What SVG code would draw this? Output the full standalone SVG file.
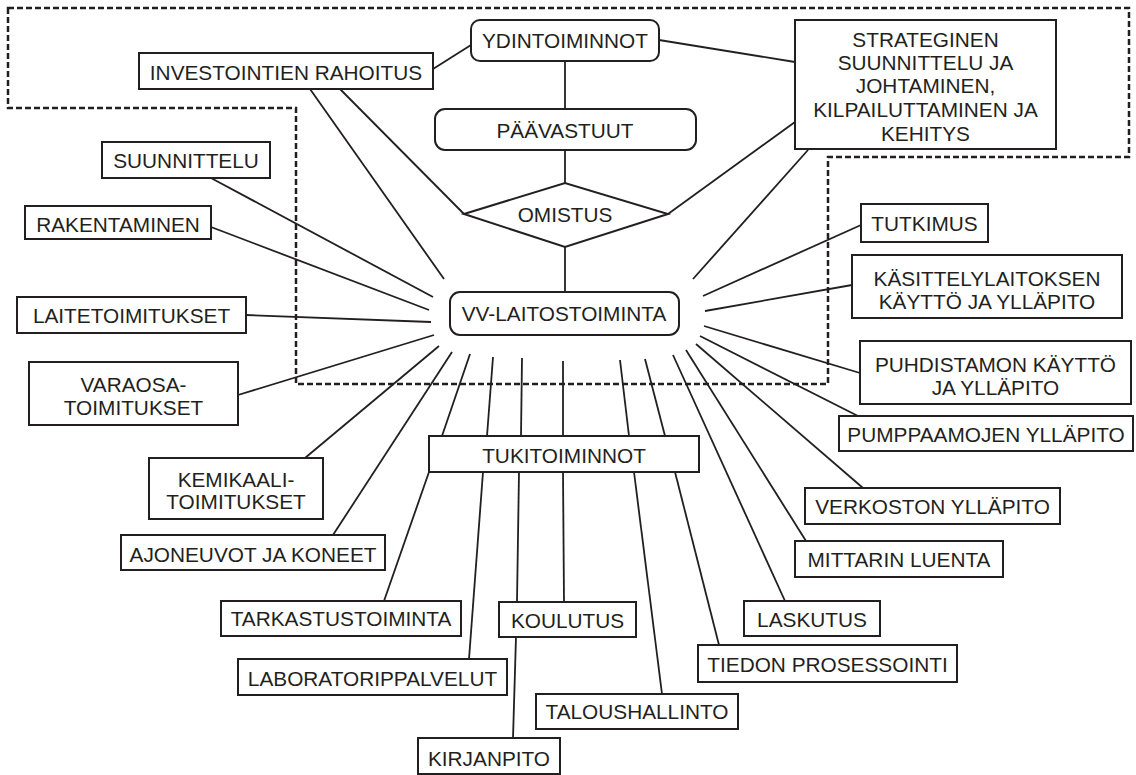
<svg xmlns="http://www.w3.org/2000/svg" width="1136" height="775" viewBox="0 0 1136 775">
  <style>
    .box { fill: #ffffff; stroke: #231f20; stroke-width: 2; }
    .lbl { font-family: "Liberation Sans", Arial, sans-serif; font-size: 20.8px; fill: #231f20; text-anchor: middle; }
    .ln { stroke: #231f20; stroke-width: 1.8; fill: none; }
    .zone { fill: none; stroke: #231f20; stroke-width: 2.5; stroke-dasharray: 6 3; }
  </style>
  <rect width="1136" height="775" fill="#ffffff"/>

  <!-- core responsibility zone -->
  <path class="zone" d="M8,8 H1129 V157 H828 V384 H296 V108 H8 Z"/>

  <g id="connectors">
    <!-- core chain -->
    <line class="ln" x1="565" y1="61" x2="565" y2="109"/>
    <line class="ln" x1="565" y1="150" x2="565" y2="183"/>
    <line class="ln" x1="565" y1="247" x2="565" y2="292"/>
    <line class="ln" x1="433" y1="69" x2="471" y2="45"/>
    <line class="ln" x1="659" y1="40" x2="795" y2="62"/>
    <line class="ln" x1="340" y1="89" x2="464" y2="214"/>
    <line class="ln" x1="668" y1="214" x2="795" y2="122"/>
    <!-- spokes around VV-LAITOSTOIMINTA -->
    <line class="ln" x1="310" y1="89" x2="444" y2="279"/>
    <line class="ln" x1="211" y1="178" x2="433" y2="297"/>
    <line class="ln" x1="211" y1="227" x2="429" y2="310"/>
    <line class="ln" x1="246" y1="315" x2="431" y2="322"/>
    <line class="ln" x1="238" y1="395" x2="434" y2="335"/>
    <line class="ln" x1="305" y1="458" x2="439" y2="346"/>
    <line class="ln" x1="333" y1="535" x2="452" y2="352"/>
    <line class="ln" x1="442" y1="436" x2="470" y2="354"/>
    <line class="ln" x1="487" y1="436" x2="493" y2="357"/>
    <line class="ln" x1="521" y1="436" x2="522" y2="358"/>
    <line class="ln" x1="563" y1="436" x2="563" y2="361"/>
    <line class="ln" x1="629" y1="436" x2="620" y2="360"/>
    <line class="ln" x1="665" y1="436" x2="645" y2="359"/>
    <line class="ln" x1="785" y1="601" x2="673" y2="355"/>
    <line class="ln" x1="806" y1="541" x2="686" y2="350"/>
    <line class="ln" x1="863" y1="488" x2="696" y2="344"/>
    <line class="ln" x1="858" y1="416" x2="700" y2="336"/>
    <line class="ln" x1="860" y1="373" x2="704" y2="326"/>
    <line class="ln" x1="852" y1="285" x2="705" y2="311"/>
    <line class="ln" x1="861" y1="225" x2="703" y2="296"/>
    <line class="ln" x1="808" y1="150" x2="693" y2="279"/>
    <!-- below TUKITOIMINNOT -->
    <line class="ln" x1="429" y1="472" x2="384" y2="601"/>
    <line class="ln" x1="483" y1="472" x2="469" y2="659"/>
    <line class="ln" x1="519" y1="472" x2="517" y2="602"/>
    <line class="ln" x1="563" y1="472" x2="564" y2="602"/>
    <line class="ln" x1="634" y1="472" x2="662" y2="694"/>
    <line class="ln" x1="675" y1="472" x2="719" y2="645"/>
    <line class="ln" x1="516" y1="637" x2="513" y2="738"/>
  </g>

  <g id="ydintoiminnot">
    <rect class="box" x="471" y="20" width="188" height="41" rx="9"/>
    <text class="lbl" x="565" y="48">YDINTOIMINNOT</text>
  </g>
  <g id="paavastuut">
    <rect class="box" x="435" y="109" width="261" height="41" rx="10"/>
    <text class="lbl" x="565" y="138">PÄÄVASTUUT</text>
  </g>
  <g id="omistus">
    <polygon class="box" points="464,214 565,183 668,214 565,247"/>
    <text class="lbl" x="565" y="222">OMISTUS</text>
  </g>
  <g id="vv-laitostoiminta">
    <rect class="box" x="450" y="292" width="229" height="43" rx="10"/>
    <text class="lbl" x="564" y="321">VV-LAITOSTOIMINTA</text>
  </g>
  <g id="investointien-rahoitus">
    <rect class="box" x="139" y="53" width="294" height="36"/>
    <text class="lbl" x="286" y="80">INVESTOINTIEN RAHOITUS</text>
  </g>
  <g id="strateginen">
    <rect class="box" x="795" y="20" width="261" height="129"/>
    <text class="lbl" x="925.5" y="47">STRATEGINEN</text>
    <text class="lbl" x="925.5" y="70">SUUNNITTELU JA</text>
    <text class="lbl" x="925.5" y="93">JOHTAMINEN,</text>
    <text class="lbl" x="925.5" y="117">KILPAILUTTAMINEN JA</text>
    <text class="lbl" x="925.5" y="141">KEHITYS</text>
  </g>
  <g id="suunnittelu">
    <rect class="box" x="102" y="142" width="168" height="36"/>
    <text class="lbl" x="186" y="168">SUUNNITTELU</text>
  </g>
  <g id="rakentaminen">
    <rect class="box" x="25" y="206" width="186" height="33"/>
    <text class="lbl" x="118" y="232">RAKENTAMINEN</text>
  </g>
  <g id="laitetoimitukset">
    <rect class="box" x="17" y="297" width="229" height="36"/>
    <text class="lbl" x="131.5" y="323">LAITETOIMITUKSET</text>
  </g>
  <g id="varaosatoimitukset">
    <rect class="box" x="29" y="362" width="209" height="63"/>
    <text class="lbl" x="133.5" y="392">VARAOSA-</text>
    <text class="lbl" x="133.5" y="415">TOIMITUKSET</text>
  </g>
  <g id="kemikaalitoimitukset">
    <rect class="box" x="149" y="458" width="174" height="61"/>
    <text class="lbl" x="236" y="487">KEMIKAALI-</text>
    <text class="lbl" x="236" y="509">TOIMITUKSET</text>
  </g>
  <g id="ajoneuvot">
    <rect class="box" x="121" y="535" width="264" height="35"/>
    <text class="lbl" x="253" y="562">AJONEUVOT JA KONEET</text>
  </g>
  <g id="tukitoiminnot">
    <rect class="box" x="429" y="436" width="270" height="36"/>
    <text class="lbl" x="564" y="463">TUKITOIMINNOT</text>
  </g>
  <g id="tarkastustoiminta">
    <rect class="box" x="221" y="601" width="240" height="35"/>
    <text class="lbl" x="341" y="626">TARKASTUSTOIMINTA</text>
  </g>
  <g id="laboratoripalvelut">
    <rect class="box" x="238" y="659" width="269" height="36"/>
    <text class="lbl" x="372.5" y="686">LABORATORIPPALVELUT</text>
  </g>
  <g id="koulutus">
    <rect class="box" x="499" y="602" width="137" height="35"/>
    <text class="lbl" x="567.5" y="628">KOULUTUS</text>
  </g>
  <g id="kirjanpito">
    <rect class="box" x="418" y="738" width="142" height="36"/>
    <text class="lbl" x="489" y="766">KIRJANPITO</text>
  </g>
  <g id="taloushallinto">
    <rect class="box" x="536" y="694" width="202" height="35"/>
    <text class="lbl" x="637" y="719">TALOUSHALLINTO</text>
  </g>
  <g id="tiedon-prosessointi">
    <rect class="box" x="698" y="645" width="259" height="37"/>
    <text class="lbl" x="827.5" y="672">TIEDON PROSESSOINTI</text>
  </g>
  <g id="laskutus">
    <rect class="box" x="744" y="601" width="136" height="35"/>
    <text class="lbl" x="812" y="627">LASKUTUS</text>
  </g>
  <g id="mittarin-luenta">
    <rect class="box" x="795" y="541" width="208" height="36"/>
    <text class="lbl" x="899" y="567">MITTARIN LUENTA</text>
  </g>
  <g id="verkoston-yllapito">
    <rect class="box" x="805" y="488" width="255" height="36"/>
    <text class="lbl" x="932.5" y="514">VERKOSTON YLLÄPITO</text>
  </g>
  <g id="pumppaamojen-yllapito">
    <rect class="box" x="839" y="416" width="294" height="35"/>
    <text class="lbl" x="986" y="442">PUMPPAAMOJEN YLLÄPITO</text>
  </g>
  <g id="puhdistamon">
    <rect class="box" x="860" y="341" width="271" height="63"/>
    <text class="lbl" x="995.5" y="372">PUHDISTAMON KÄYTTÖ</text>
    <text class="lbl" x="995.5" y="395">JA YLLÄPITO</text>
  </g>
  <g id="kasittelylaitoksen">
    <rect class="box" x="852" y="255" width="270" height="63"/>
    <text class="lbl" x="987" y="286">KÄSITTELYLAITOKSEN</text>
    <text class="lbl" x="987" y="309">KÄYTTÖ JA YLLÄPITO</text>
  </g>
  <g id="tutkimus">
    <rect class="box" x="861" y="204" width="127" height="38"/>
    <text class="lbl" x="924.5" y="231">TUTKIMUS</text>
  </g>
</svg>
